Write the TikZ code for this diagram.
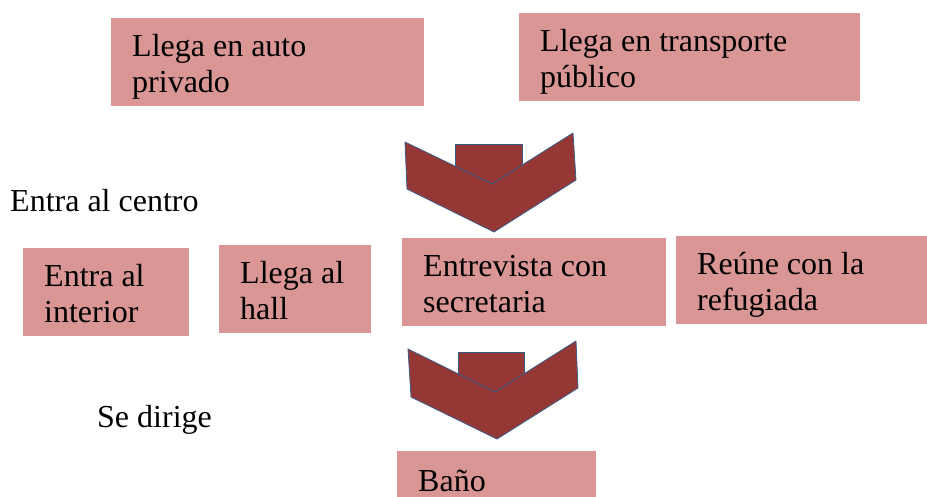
\documentclass[tikz,border=0pt]{standalone}
\usepackage{fontspec}
\setmainfont{Liberation Serif}
\definecolor{boxpink}{HTML}{D99694}
\definecolor{arrowred}{HTML}{953735}
\definecolor{arrowline}{HTML}{385D8A}

\begin{document}
\begin{tikzpicture}[x=1pt, y=-1pt,
  box/.style={fill=boxpink, anchor=north west, align=flush left, inner xsep=21pt, inner ysep=0pt,
    text height=38.5pt, text depth=49.5pt, font=\fontsize{32}{36}\selectfont},
  lbl/.style={anchor=base west, inner sep=0pt, font=\fontsize{32}{36}\selectfont},
  chev/.style={fill=arrowred, draw=arrowline, line width=0.8pt, line join=round}]
\useasboundingbox (0,0) rectangle (927,497);
\clip (0,0) rectangle (927,497);
% boxes
\node[box, minimum width=313pt, text width=271pt] (auto) at (111,18) {Llega en auto\\privado};
\node[box, minimum width=341pt, text width=299pt] (transp) at (519,13) {Llega en transporte\\público};
\node[box, minimum width=166pt, text width=124pt, inner xsep=20pt] (interior) at (23,248) {Entra al\\interior};
\node[box, minimum width=152pt, text width=110pt] (hall) at (219,245) {Llega al\\hall};
\node[box, minimum width=264pt, text width=222pt] (secre) at (402,238) {Entrevista con\\secretaria};
\node[box, minimum width=251pt, text width=209pt] (refug) at (676,236) {Reúne con la\\refugiada};
\node[box, minimum width=199pt, text width=157pt, text height=40pt, text depth=20pt] (bano) at (397,451) {Baño};
% labels
\node[lbl] (centro) at (10,212) {Entra al centro};
\node[lbl] (dirige) at (97,427) {Se dirige};
% block arrows
\filldraw[chev] (455,144) rectangle (522,190);
\filldraw[chev] (405,142) -- (407,189) -- (494,232) -- (576,180) -- (573,133) -- (492,184) -- cycle;
\filldraw[chev] (458,352) rectangle (524,400);
\filldraw[chev] (408,349) -- (411,397) -- (497,439) -- (578,388) -- (576,341) -- (495,392) -- cycle;
\end{tikzpicture}
\end{document}
